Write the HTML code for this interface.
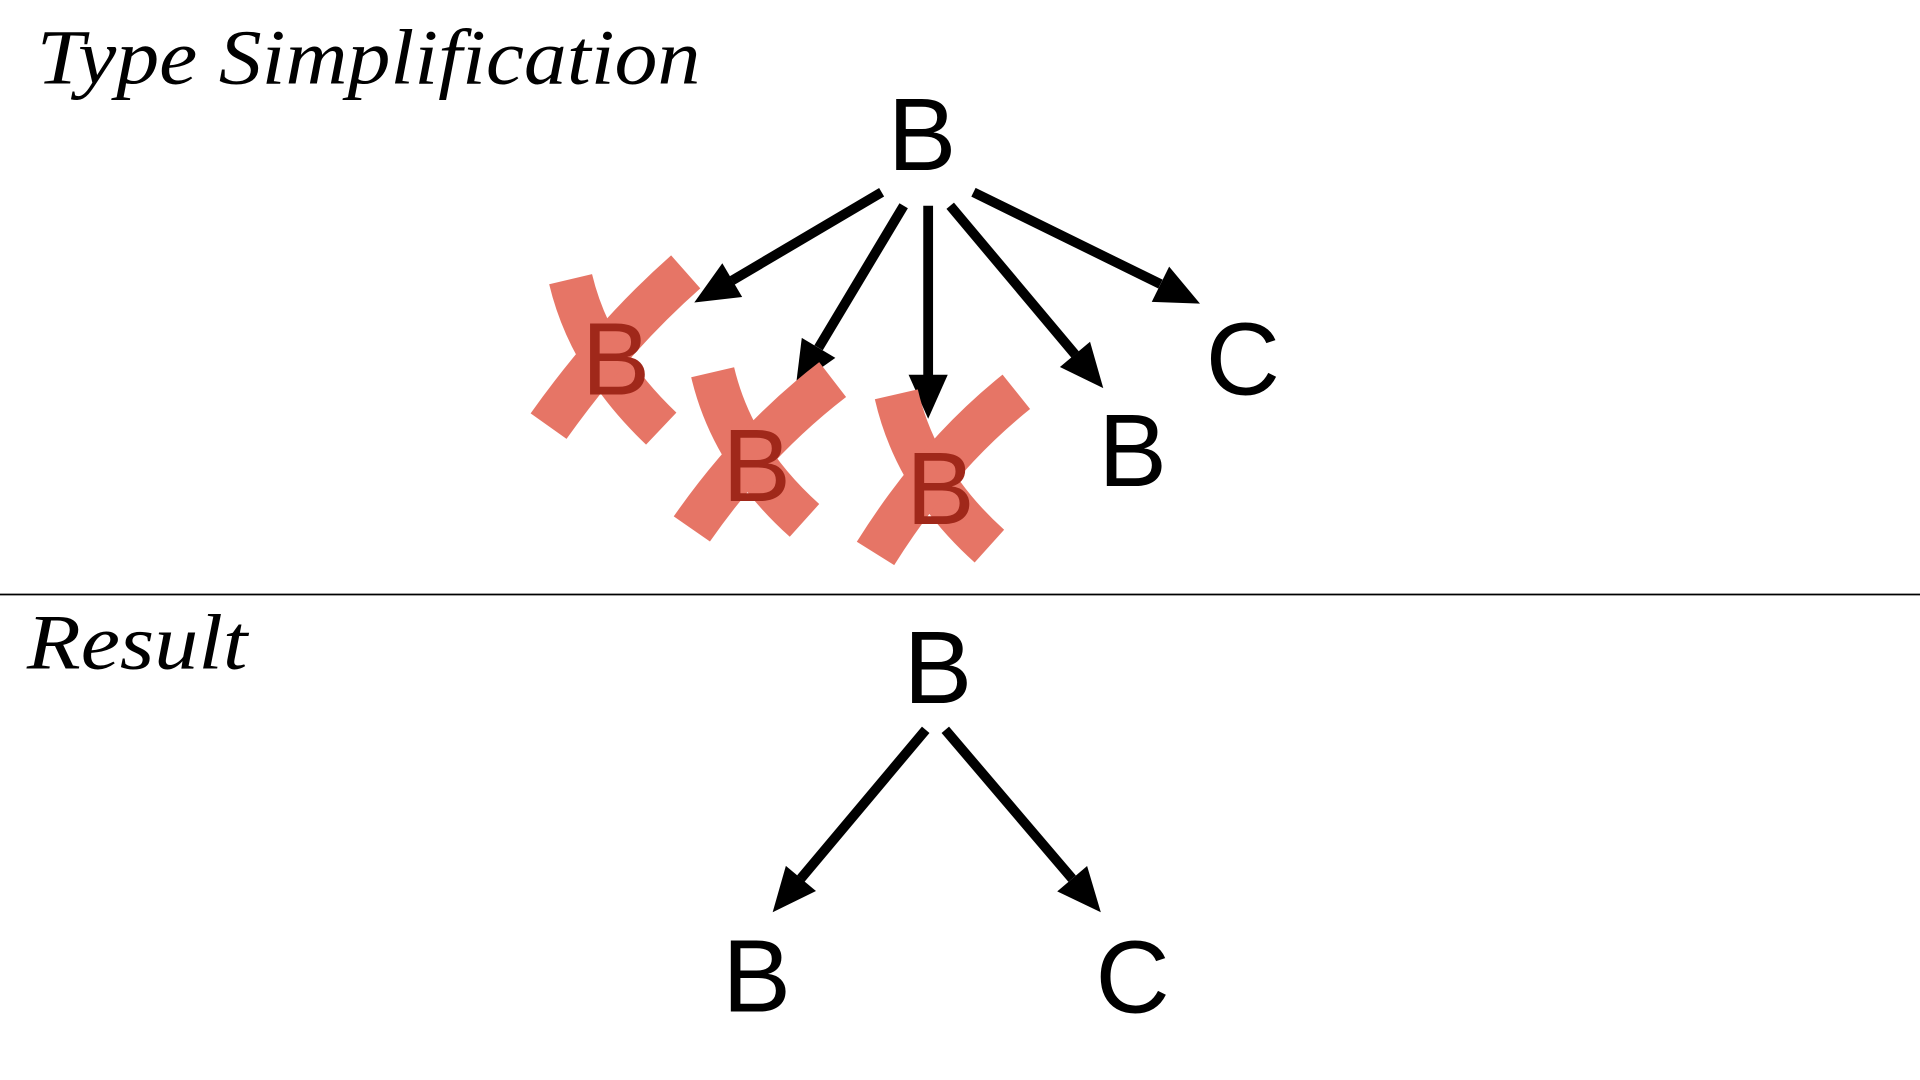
<!DOCTYPE html>
<html><head><meta charset="utf-8"><style>
html,body{margin:0;padding:0;background:#fff;width:1920px;height:1080px;overflow:hidden}
svg{display:block}
.n{font-family:"Liberation Sans","DejaVu Sans",sans-serif;font-size:84px;text-anchor:middle}
.t{font-family:"Liberation Serif",serif;font-style:italic;font-size:64px}
</style></head><body>
<svg width="1920" height="1080" viewBox="0 0 1568 882" preserveAspectRatio="none">
<text class="t" x="30" y="68" textLength="542" lengthAdjust="spacingAndGlyphs">Type Simplification</text>
<text class="t" x="22" y="546" textLength="180" lengthAdjust="spacingAndGlyphs">Result</text>
<line x1="0" y1="485.5" x2="1568" y2="485.5" stroke="#000" stroke-width="1.5"/>

<g stroke="#000" stroke-width="8">
<line x1="720" y1="157" x2="598" y2="229"/>
<line x1="738" y1="168" x2="668.5" y2="284"/>
<line x1="758" y1="168" x2="758" y2="307"/>
<line x1="776" y1="168" x2="878" y2="289.5"/>
<line x1="795" y1="157" x2="947.7" y2="232"/>
<line x1="756" y1="596" x2="654" y2="717.5"/>
<line x1="772" y1="596" x2="875.6" y2="717.6"/>
</g>
<g fill="#000">
<polygon points="567,247 606.1,242.5 589.9,215"/>
<polygon points="650,315 682.2,292.3 654.8,275.9"/>
<polygon points="758,342 742,306 774,306"/>
<polygon points="901,317 890.2,279.1 865.6,299.7"/>
<polygon points="980,248 954.8,217.7 940.6,246.5"/>
<polygon points="631,745 666.4,727.7 641.8,707.1"/>
<polygon points="899,745 887.8,707.2 863.4,728"/>
</g>

<text class="n" x="753" y="139">B</text>
<text class="n" x="1015" y="322">C</text>
<text class="n" x="925" y="397">B</text>
<text class="n" x="766" y="574">B</text>
<text class="n" x="618" y="826">B</text>
<text class="n" x="925" y="827">C</text>

<g stroke="#e67566" stroke-width="36" stroke-linecap="butt" fill="none">
<path d="M466,228 Q482,295 540,350"/>
<path d="M560,222 Q500,275 448,348"/>
<path d="M582,304 Q598,372 657,425"/>
<path d="M680,310 Q615,360 565,432"/>
<path d="M732,322 Q748,392 808,446"/>
<path d="M830,320 Q765,372 715,452"/>
</g>
<text class="n" x="503" y="322" fill="#a0281a">B</text>
<text class="n" x="618" y="409" fill="#a0281a">B</text>
<text class="n" x="768" y="428" fill="#a0281a">B</text>
</svg>
</body></html>
